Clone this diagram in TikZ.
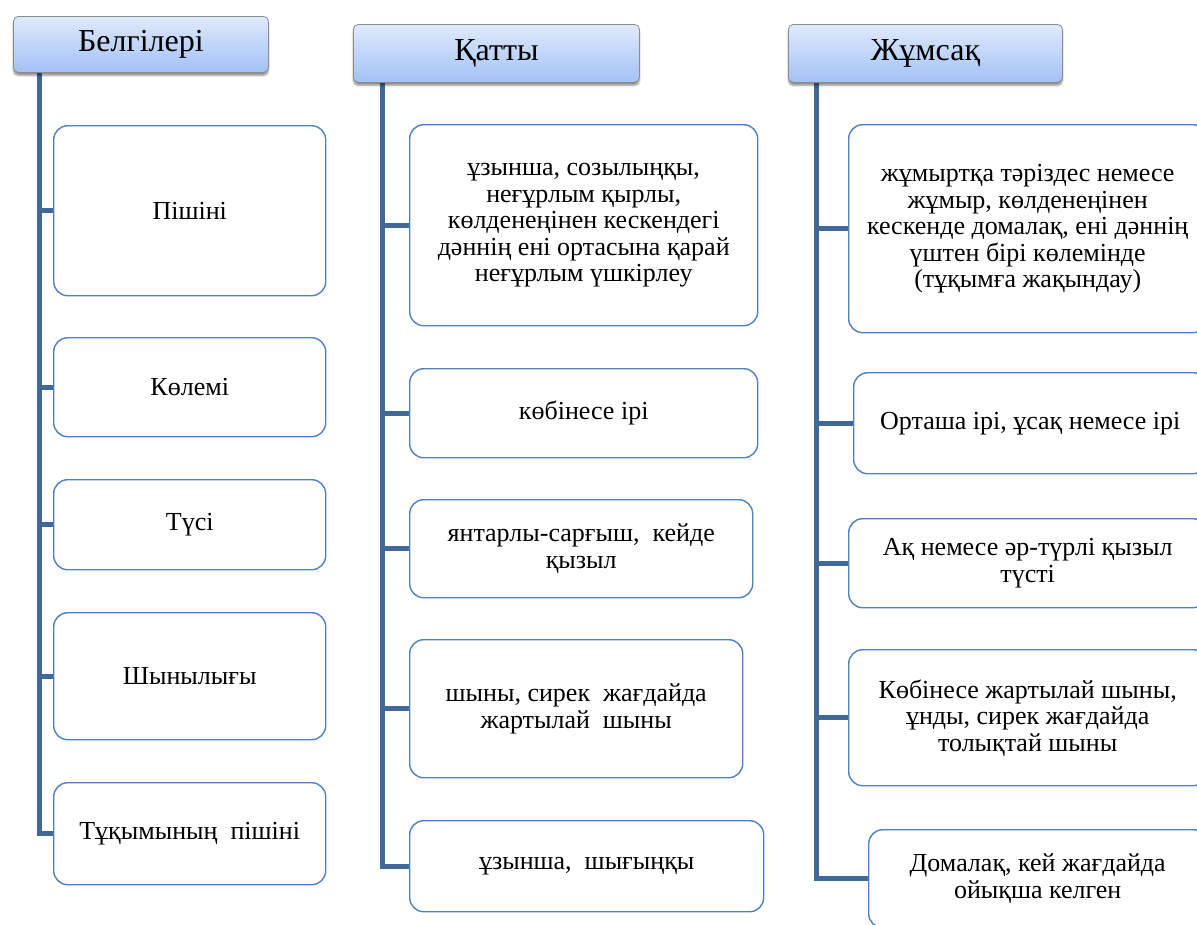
\documentclass[tikz,border=0pt]{standalone}
\usepackage{fontspec}
\setmainfont{Liberation Serif}
\usetikzlibrary{positioning, calc, backgrounds, shadows.blur}
\definecolor{hdrtop}{RGB}{224,234,252}
\definecolor{hdrbot}{RGB}{162,193,245}
\definecolor{hdrline}{RGB}{140,140,140}
\definecolor{boxline}{RGB}{79,129,189}
\definecolor{trunkc}{RGB}{64,104,154}
\tikzset{>=latex}

\begin{document}
\begin{tikzpicture}[x=1pt,y=-1pt,
    hdr/.style={draw=hdrline,line width=0.8pt,rounded corners=5pt,top color=hdrtop,bottom color=hdrbot,anchor=north west,inner sep=0pt,font=\fontsize{32}{36}\selectfont,blur shadow={shadow xshift=0pt,shadow yshift=-3pt,shadow blur steps=6,shadow opacity=45}},
    cell/.style={draw=boxline,line width=1.4pt,rounded corners=14pt,fill=white,anchor=north west,align=center,inner sep=0pt,font=\fontsize{26}{26.5}\selectfont},
    trunk/.style={draw=trunkc,line width=5pt,line join=miter}]
    \useasboundingbox (0,0) rectangle (1197,924);
    \clip (0,0) rectangle (1197,924);
    % headers
    \node[hdr,minimum width=255,minimum height=56] (bel) at (13,16) {Белгілері};
    \node[hdr,minimum width=286,minimum height=58] (qat) at (353,24) {Қатты};
    \node[hdr,minimum width=274,minimum height=58] (zhm) at (788,24) {Жұмсақ};
    % first column
    \node[cell,minimum width=272,minimum height=170] (bel1) at (53,125) {Пішіні};
    \node[cell,minimum width=272,minimum height=99] (bel2) at (53,337) {Көлемі};
    \node[cell,minimum width=272,minimum height=90] (bel3) at (53,479) {Түсі};
    \node[cell,minimum width=272,minimum height=127] (bel4) at (53,612) {Шынылығы};
    \node[cell,minimum width=272,minimum height=102] (bel5) at (53,782) {Тұқымының\ \ пішіні};
    % second column
    \node[cell,minimum width=348,minimum height=201] (qat1) at (409,124) {ұзынша, созылыңқы,\\неғұрлым қырлы,\\көлденеңінен кескендегі\\дәннің ені ортасына қарай\\неғұрлым үшкірлеу};
    \node[cell,minimum width=348,minimum height=89] (qat2) at (409,368) {көбінесе ірі};
    \node[cell,minimum width=343,minimum height=98] (qat3) at (409,499) {янтарлы-сарғыш,\ \ кейде\\қызыл};
    \node[cell,minimum width=333,minimum height=138] (qat4) at (409,639) {шыны, сирек\ \ жағдайда\\жартылай\ \ шыны};
    \node[cell,minimum width=354,minimum height=91] (qat5) at (409,820) {ұзынша,\ \ шығыңқы};
    % third column
    \node[cell,minimum width=358,minimum height=208] (zhm1) at (848,124) {жұмыртқа тәріздес немесе\\жұмыр, көлденеңінен\\кескенде домалақ, ені дәннің\\үштен бірі көлемінде\\(тұқымға жақындау)};
    \node[cell,minimum width=353,minimum height=101] (zhm2) at (853,372) {Орташа ірі, ұсақ немесе ірі};
    \node[cell,minimum width=358,minimum height=89] (zhm3) at (848,518) {Ақ немесе әр-түрлі қызыл\\түсті};
    \node[cell,minimum width=358,minimum height=136] (zhm4) at (848,649) {Көбінесе жартылай шыны,\\ұнды, сирек жағдайда\\толықтай шыны};
    \node[cell,minimum width=338,minimum height=98] (zhm5) at (868,829) {Домалақ, кей жағдайда\\ойықша келген};
    \coordinate (belT) at ([xshift=26pt]bel.south west);
    \coordinate (qatT) at ([xshift=29pt]qat.south west);
    \coordinate (zhmT) at ([xshift=28pt]zhm.south west);
    \begin{scope}[on background layer]
        \draw[trunk] (belT) |- (bel5.west);
        \draw[trunk] (qatT) |- (qat5.west);
        \draw[trunk] (zhmT) |- (zhm5.west);
        \foreach \b in {bel1,bel2,bel3,bel4}
            \draw[trunk] (belT |- \b.west) -- (\b.west);
        \foreach \b in {qat1,qat2,qat3,qat4}
            \draw[trunk] (qatT |- \b.west) -- (\b.west);
        \foreach \b in {zhm1,zhm2,zhm3,zhm4}
            \draw[trunk] (zhmT |- \b.west) -- (\b.west);
    \end{scope}
\end{tikzpicture}
\end{document}
